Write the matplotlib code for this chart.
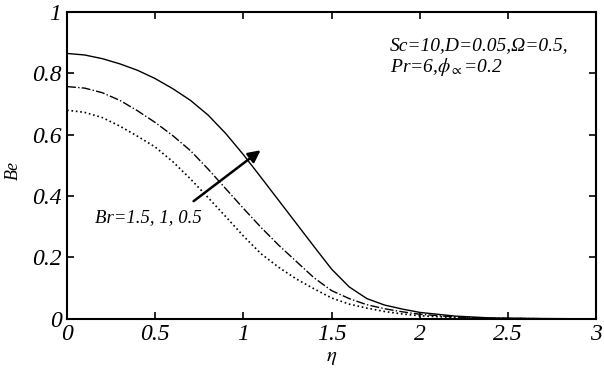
import numpy as np
import matplotlib
matplotlib.use("Agg")
import matplotlib.pyplot as plt

plt.rcParams['font.family'] = ['Liberation Serif', 'DejaVu Serif']
plt.rcParams['mathtext.fontset'] = 'stix'

# Be profiles for Br = 1.5, 1, 0.5
eta = [0, 0.1, 0.2, 0.3, 0.4, 0.5, 0.6, 0.7, 0.8, 0.9, 1.0, 1.1, 1.2, 1.3, 1.4,
       1.5, 1.6, 1.7, 1.8, 1.9, 2.0, 2.2, 2.4, 2.7, 3.0]
be_br15 = [0.865, 0.860, 0.848, 0.831, 0.810, 0.783, 0.750, 0.712, 0.664, 0.604, 0.535,
           0.461, 0.386, 0.311, 0.236, 0.162, 0.104, 0.066, 0.045, 0.032, 0.021, 0.009,
           0.003, 0.001, 0.0]
be_br1 = [0.757, 0.752, 0.737, 0.712, 0.678, 0.640, 0.597, 0.548, 0.488, 0.424, 0.360,
          0.298, 0.240, 0.187, 0.134, 0.092, 0.066, 0.046, 0.033, 0.023, 0.015, 0.006,
          0.002, 0.0005, 0.0]
be_br05 = [0.680, 0.673, 0.656, 0.628, 0.595, 0.560, 0.512, 0.456, 0.395, 0.333, 0.270,
           0.212, 0.168, 0.130, 0.098, 0.068, 0.048, 0.035, 0.024, 0.016, 0.010, 0.004,
           0.001, 0.0, 0.0]

xticks = [0, 0.5, 1, 1.5, 2, 2.5, 3]
xticklabels = ['0', '0.5', '1', '1.5', '2', '2.5', '3']
yticks = [0, 0.2, 0.4, 0.6, 0.8, 1]
yticklabels = ['0', '0.2', '0.4', '0.6', '0.8', '1']

fig = plt.figure(figsize=(6.04, 3.76), dpi=100)
ax = fig.add_axes([0.111, 0.152, 0.876, 0.816])

ax.plot(eta, be_br15, '-', color='black', lw=1.0)
ax.plot(eta, be_br1, '-.', color='black', lw=1.0)
ax.plot(eta, be_br05, ':', color='black', lw=1.2)

ax.set_xlim(0, 3)
ax.set_ylim(0, 1)
ax.set_xticks(xticks)
ax.set_xticklabels(xticklabels, style='italic')
ax.set_yticks(yticks)
ax.set_yticklabels(yticklabels, style='italic')
ax.tick_params(direction='in', length=5, width=1.2, labelsize=17,
               top=True, right=True, pad=4)
for s in ax.spines.values():
    s.set_linewidth(1.5)

ax.set_xlabel(r'$\eta$', fontsize=15, labelpad=2)
ax.set_ylabel('Be', fontsize=13, style='italic')
ax.yaxis.set_label_coords(-0.085, 0.485)

ax.annotate('', xy=(1.11, 0.555), xytext=(0.705, 0.378),
            arrowprops=dict(arrowstyle='-|>', color='black', lw=1.8,
                            mutation_scale=18))
ax.text(0.16, 0.33, 'Br=1.5, 1, 0.5', fontsize=13.5, style='italic',
        va='center', ha='left')
ax.text(1.83, 0.89, 'Sc=10,D=0.05,\u03a9=0.5,', fontsize=14, style='italic',
        va='center', ha='left')
ax.text(1.83, 0.82, r'Pr=6,$\phi_{\propto}$=0.2', fontsize=14, style='italic',
        va='center', ha='left')

fig.savefig('out.png', dpi=100)
